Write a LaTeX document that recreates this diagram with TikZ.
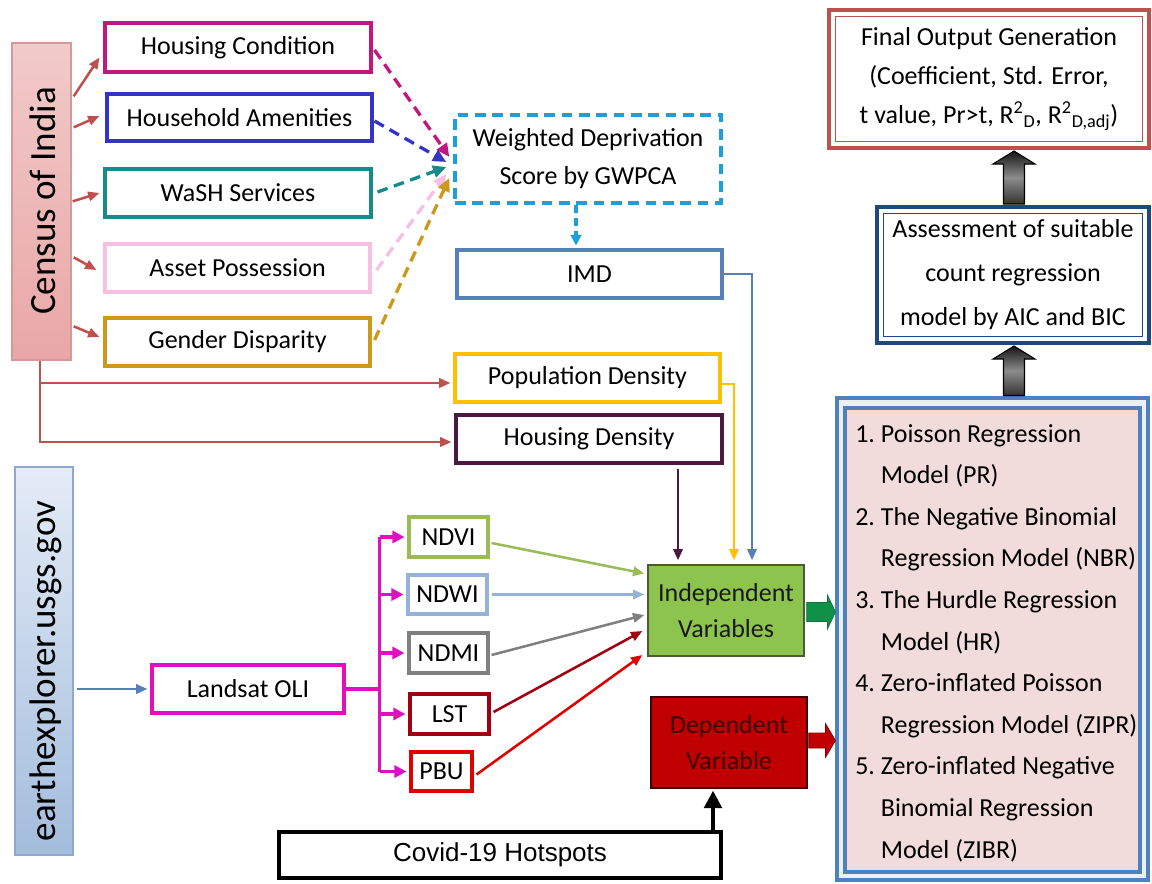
\documentclass[tikz,border=0pt]{standalone}
\usepackage{fontspec}
\setmainfont{Carlito}
\newfontfamily\arialf{Liberation Sans}
\usetikzlibrary{arrows.meta,calc}
\definecolor{carrc}{HTML}{C0504D}
\definecolor{hcc}{HTML}{C0187E}
\definecolor{hac}{HTML}{3535C5}
\definecolor{washc}{HTML}{178A8C}
\definecolor{assetc}{HTML}{F7BFE2}
\definecolor{genc}{HTML}{CC9A1A}
\definecolor{wdsc}{HTML}{1E9FDD}
\definecolor{imdc}{HTML}{5580BA}
\definecolor{popc}{HTML}{FFC000}
\definecolor{hdc}{HTML}{4A1942}
\definecolor{ndvic}{HTML}{9BBB59}
\definecolor{ndwic}{HTML}{95B3D7}
\definecolor{ndmic}{HTML}{808080}
\definecolor{lstc}{HTML}{A00010}
\definecolor{pbuc}{HTML}{E00000}
\definecolor{landc}{HTML}{E010C0}
\definecolor{ivfill}{HTML}{8DC44E}
\definecolor{ivdraw}{HTML}{4D5A3A}
\definecolor{dvfill}{HTML}{C00000}
\definecolor{dvtext}{HTML}{3E0000}
\definecolor{garrow}{HTML}{119148}
\definecolor{rarrow}{HTML}{C00000}
\definecolor{mfill}{HTML}{F2DCDB}
\definecolor{mblue}{HTML}{4F81BD}
\definecolor{finc}{HTML}{C0504D}
\definecolor{assc}{HTML}{1F497D}
\definecolor{censtop}{HTML}{F2CACA}
\definecolor{censbot}{HTML}{E9A6A6}
\definecolor{censdraw}{HTML}{D49A9A}
\definecolor{eatop}{HTML}{E4ECF6}
\definecolor{eabot}{HTML}{A3BCDC}
\definecolor{eadraw}{HTML}{8EA9CC}
\begin{document}
\begin{tikzpicture}[x=0.75pt,y=-0.75pt,
  wh/.style 2 args={minimum width=#1*0.75pt, minimum height=#2*0.75pt},
  txt/.style={font=\fontsize{19.5}{29}\selectfont, align=center},
  box/.style={draw, line width=2.3pt, fill=white, inner sep=0pt, txt},
  arr/.style={line width=1.9pt, -{Triangle[length=8.5pt,width=7pt]}},
  dsh/.style={line width=2.5pt, dash pattern=on 8pt off 5pt, -{Triangle[length=10pt,width=9pt]}},
  farr/.style={line width=2.3pt, landc, -{Triangle[length=9pt,width=9pt]}},
  upblk/.style={draw=black, line width=0.8pt, top color=black!92, bottom color=black!80, middle color=black!45},
]
\useasboundingbox (0,0) rectangle (1152,883);

% ---------- left sources ----------
\node[draw=censdraw, line width=1pt, top color=censtop, bottom color=censbot, wh={59}{317}] (census) at (41.5,201.5) {};
\node[rotate=90, font=\fontsize{27.75}{30}\selectfont, inner sep=0pt] (censust) at (43,201) {Census of India};
\node[draw=eadraw, line width=1pt, top color=eatop, bottom color=eabot, wh={58}{388}] (earth) at (44,661) {};
\node[rotate=90, font=\fontsize{27.75}{30}\selectfont, inner sep=0pt] (eartht) at (46,671) {earthexplorer.usgs.gov};

% ---------- census boxes ----------
\node[box, draw=hcc, wh={266}{49}] (hc) at (238,47.5) {Housing Condition};
\node[box, draw=hac, wh={265}{47}] (ha) at (239.5,117.5) {Household Amenities};
\node[box, draw=washc, wh={266}{48}] (wash) at (238,193) {WaSH Services};
\node[box, draw=assetc, wh={265}{48}] (asset) at (237.5,268) {Asset Possession};
\node[box, draw=genc, wh={265}{48}] (gender) at (237.5,342) {Gender Disparity};

% ---------- middle column ----------
\node[box, draw=wdsc, line width=2.5pt, dash pattern=on 8pt off 5pt, wh={266}{88}, font=\fontsize{19.5}{28.5}\selectfont] (wds) at (588,159) {Weighted Deprivation\\Score by GWPCA};
\node[box, draw=imdc, wh={265}{48}] (imd) at (589.5,274) {IMD};
\node[box, draw=popc, wh={265}{48}] (popd) at (587.5,378) {Population Density};
\node[box, draw=hdc, wh={266}{48}] (housd) at (589,439) {Housing Density};

% ---------- satellite ----------
\node[box, draw=landc, wh={192}{48}] (landsat) at (248,689) {Landsat OLI};
\node[box, draw=ndvic, wh={79}{40}] (ndvi) at (448.5,537) {NDVI};
\node[box, draw=ndwic, wh={79}{39}] (ndwi) at (447.5,594.5) {NDWI};
\node[box, draw=ndmic, wh={79}{40}] (ndmi) at (448.5,653) {NDMI};
\node[box, draw=lstc, wh={79}{40}] (lst) at (449.5,714) {LST};
\node[box, draw=pbuc, wh={61}{39}] (pbu) at (441.5,771.5) {PBU};

% ---------- variables ----------
\node[draw=ivdraw, line width=1pt, fill=ivfill, wh={156}{91}, txt, font=\fontsize{19.5}{27.5}\selectfont, text=black!90] (iv) at (726,610.5) {Independent\\Variables};
\node[draw=dvtext, line width=1pt, fill=dvfill, wh={156}{91}, txt, font=\fontsize{19.5}{27.5}\selectfont, text=dvtext] (dv) at (729,742.5) {Dependent\\Variable};
\node[draw=black, line width=2.5pt, fill=white, wh={442}{46}, font=\arialf\fontsize{19.5}{24}\selectfont] (covid) at (500,855) {Covid-19 Hotspots};

% ---------- right column ----------
\node[draw=finc, line width=3pt, fill=white, wh={320}{138}] (final) at (989,79) {};
\node[draw=finc, line width=1pt, wh={307}{125}, txt, font=\fontsize{19.5}{29.3}\selectfont] (finalin) at (final.center) {Final Output Generation\\(Coefficient, Std. Error,\\t value, Pr>t, R\textsuperscript{2}\textsubscript{D}, R\textsuperscript{2}\textsubscript{D,adj})};
\node[draw=assc, line width=3pt, fill=white, wh={272}{136}] (assess) at (1013,275) {};
\node[draw=assc, line width=1pt, wh={259}{123}, txt, font=\fontsize{19.5}{33}\selectfont] (assessin) at (assess.center) {Assessment of suitable\\count regression\\model by AIC and BIC};
\node[draw=mblue, line width=2.3pt, fill=mblue!12, wh={311}{482}] (modelsframe) at (992.5,639) {};
\node[draw=mblue, line width=2.3pt, fill=mfill, wh={295}{464}] (models) at (992.5,640) {};
\node[anchor=north west, inner sep=0pt, align=left, font=\fontsize{19.5}{31.2}\selectfont] (modelst) at (855,424)
{1.\ Poisson Regression\\\hphantom{1.\ }Model (PR)\\2.\ The Negative Binomial\\\hphantom{2.\ }Regression Model (NBR)\\3.\ The Hurdle Regression\\\hphantom{3.\ }Model (HR)\\4.\ Zero-inflated Poisson\\\hphantom{4.\ }Regression Model (ZIPR)\\5.\ Zero-inflated Negative\\\hphantom{5.\ }Binomial Regression\\\hphantom{5.\ }Model (ZIBR)};

% ---------- census connectors ----------
\draw[arr, carrc] ($(census.north east)+(2,54)$) -- ($(hc.west)+(-4,10)$);
\draw[arr, carrc] ($(census.north east)+(2,85)$) -- ($(ha.west)+(-6,-1.5)$);
\draw[arr, carrc] ($(census.north east)+(1,159)$) -- ($(wash.west)+(-4,0)$);
\draw[arr, carrc] ($(census.north east)+(2,215)$) -- ($(asset.west)+(-7,2)$);
\draw[arr, carrc] ($(census.north east)+(2,284)$) -- ($(gender.west)+(-4,-5)$);
\coordinate (cb) at ($(census.south)+(-1.5,0)$);
\coordinate (pdin) at ($(popd.west)+(-3,5)$);
\coordinate (hdin) at ($(housd.west)+(-3,3)$);
\draw[arr, carrc] (cb) |- (hdin);
\draw[arr, carrc] (cb |- pdin) -- (pdin);

% ---------- dashed to WDS ----------
\draw[dsh, hcc] ($(hc.east)+(2,2.5)$) -- ($(wds.west)+(-4,-2)$);
\draw[dsh, hac] ($(ha.east)+(1,3.5)$) -- ($(wds.west)+(-7,3)$);
\draw[dsh, washc] ($(wash.east)+(5,-1)$) -- ($(wds.west)+(-7,8)$);
\draw[dsh, assetc] ($(asset.east)+(5,2)$) -- ($(wds.west)+(-7,15)$);
\draw[dsh, genc] ($(gender.east)+(3,-2)$) -- ($(wds.west)+(-4,19)$);
\draw[line width=2.3pt, wdsc, dash pattern=on 6pt off 4pt, -{Triangle[length=8pt,width=8pt]}] ($(wds.south)+(-12,0)$) -- ($(imd.north)+(-13.5,-3)$);

% ---------- to independent variables ----------
\draw[arr, imdc] (imd.east) -| ($(iv.north)+(26,-4)$);
\draw[arr, popc] ($(popd.east)+(0,6)$) -| ($(iv.north)+(8,-4)$);
\coordinate (hdt) at ($(iv.north)+(-48,-4)$);
\draw[arr, hdc] ($(hdt |- housd.south)+(0,4)$) -- (hdt);
\draw[arr, ndvic] ($(ndvi.east)+(2,6)$) -- ($(iv.west)+(-3,-37)$);
\draw[arr, ndwic] ($(ndwi.east)+(3,0)$) -- ($(iv.west)+(-3,-16)$);
\draw[arr, ndmic] ($(ndmi.east)+(2,2)$) -- ($(iv.west)+(-3,4.5)$);
\draw[arr, lstc] ($(lst.east)+(3,-2)$) -- ($(iv.west)+(-5,20.5)$);
\draw[arr, pbuc] ($(pbu.east)+(3,3)$) -- ($(iv.west)+(-5,44.5)$);

% ---------- landsat fan ----------
\draw[arr, imdc] ($(earth.east |- landsat.west)+(3,0)$) -- ($(landsat.west)+(-3,0)$);
\coordinate (fork) at ($(landsat.east)+(34,0)$);
\draw[line width=2.3pt, landc] (landsat.east) -- (fork);
\draw[line width=2.3pt, landc] (fork |- ndvi.west) -- (fork |- pbu.west);
\draw[farr] (fork |- ndvi.west) -- ($(ndvi.west)+(-3,0)$);
\draw[farr] (fork |- ndwi.west) -- ($(ndwi.west)+(-3,0)$);
\draw[farr] (fork |- ndmi.west) -- ($(ndmi.west)+(-3,0)$);
\draw[farr] (fork |- lst.west) -- ($(lst.west)+(-3,0)$);
\draw[farr] (fork |- pbu.west) -- ($(pbu.west)+(-3,0)$);

% ---------- covid to dependent ----------
\coordinate (cvx) at ($(dv.south)+(-16,2)$);
\draw[line width=3pt, black, -{Triangle[length=13pt,width=13pt]}] (cvx |- covid.north) -- (cvx);

% ---------- block arrows ----------
\coordinate (gB) at ($(iv.east)+(2,1.5)$);
\coordinate (gT) at (gB -| modelsframe.west);
\filldraw[fill=garrow, draw=garrow!80!black, line width=0.5pt] ($(gB)+(0,-9.5)$) -- ($(gT)+(-8,-9.5)$) -- ($(gT)+(-8,-17)$) -- (gT) -- ($(gT)+(-8,17)$) -- ($(gT)+(-8,9.5)$) -- ($(gB)+(0,9.5)$) -- cycle;
\coordinate (rB) at ($(dv.east)+(1,-2)$);
\coordinate (rT) at (rB -| modelsframe.west);
\filldraw[fill=rarrow, draw=rarrow!70!black, line width=0.5pt] ($(rB)+(0,-7.5)$) -- ($(rT)+(-10,-7.5)$) -- ($(rT)+(-10,-17)$) -- (rT) -- ($(rT)+(-10,17)$) -- ($(rT)+(-10,7.5)$) -- ($(rB)+(0,7.5)$) -- cycle;

\coordinate (u1B) at ($(assess.north)+(1,-1)$);
\coordinate (u1T) at (u1B |- final.south);
\path[upblk] ($(u1B)+(-10.5,0)$) -- ($(u1T)+(-10.5,14)$) -- ($(u1T)+(-21,14)$) -- ($(u1T)+(0,1)$) -- ($(u1T)+(21,14)$) -- ($(u1T)+(10.5,14)$) -- ($(u1B)+(10.5,0)$) -- cycle;
\coordinate (u2B) at ($(u1B |- modelsframe.north)+(0,-1)$);
\coordinate (u2T) at (u1B |- assess.south);
\path[upblk] ($(u2B)+(-10.5,0)$) -- ($(u2T)+(-10.5,14)$) -- ($(u2T)+(-21,14)$) -- ($(u2T)+(0,1)$) -- ($(u2T)+(21,14)$) -- ($(u2T)+(10.5,14)$) -- ($(u2B)+(10.5,0)$) -- cycle;
\end{tikzpicture}
\end{document}
